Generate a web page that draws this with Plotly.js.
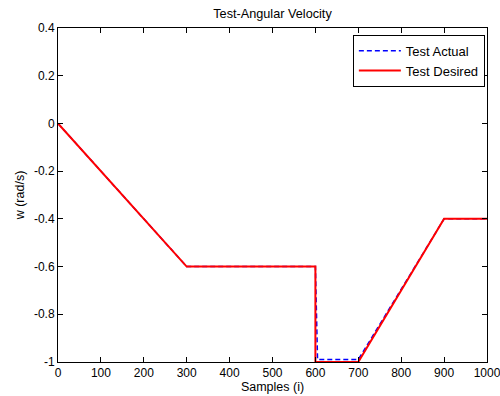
<!DOCTYPE html>
<html>
<head>
<meta charset="utf-8">
<script src="https://cdn.plot.ly/plotly-3.0.1.min.js"></script>
<style>html,body{margin:0;padding:0;background:#fff;}#chart{width:500px;height:396px;}</style>
</head>
<body>
<div id="chart"></div>
<script>
// Breakpoints
var actualX = [0, 300, 600, 605, 700, 900, 1000];
var actualY = [0, -0.6, -0.6, -0.99, -0.99, -0.4, -0.4];
var desiredX = [0, 300, 600, 600, 700, 900, 1000];
var desiredY = [0, -0.6, -0.6, -1, -1, -0.4, -0.4];
var xTicks = [0, 100, 200, 300, 400, 500, 600, 700, 800, 900, 1000];
var yTicks = [-1, -0.8, -0.6, -0.4, -0.2, 0, 0.2, 0.4];
var yTickText = ['-1', '-0.8', '-0.6', '-0.4', '-0.2', '0', '0.2', '0.4'];

var fam = 'Liberation Sans, Arial, sans-serif';
var tickFont = {family: fam, size: 12, color: '#000'};
var axFont = {family: fam, size: 12.5, color: '#000'};

var traces = [
  {x: actualX, y: actualY, mode: 'lines', name: 'Test Actual',
   line: {color: '#0000ff', width: 1.5, dash: '5px,3px'}},
  {x: desiredX, y: desiredY, mode: 'lines', name: 'Test Desired',
   line: {color: '#ff0000', width: 2}}
];

var layout = {
  width: 500, height: 396,
  margin: {l: 58, r: 13, t: 28, b: 34},
  paper_bgcolor: '#fff', plot_bgcolor: '#fff',
  font: tickFont,
  title: {text: 'Test-Angular Velocity', font: {family: fam, size: 12.7, color: '#000'},
          x: 0.545, xanchor: 'center', y: 0.965, yanchor: 'middle'},
  xaxis: {
    range: [0, 1000], tickvals: xTicks, ticktext: xTicks.map(String),
    ticks: 'inside', ticklen: 5, tickcolor: '#000', tickwidth: 1,
    showline: true, linecolor: '#000', linewidth: 1, mirror: 'ticks',
    showgrid: false, zeroline: false, automargin: false,
    ticklabeloverflow: 'allow',
    tickfont: tickFont,
    title: {text: 'Samples (i)', font: axFont, standoff: 1}
  },
  yaxis: {
    range: [-1, 0.4], tickvals: yTicks, ticktext: yTickText,
    ticks: 'inside', ticklen: 5, tickcolor: '#000', tickwidth: 1,
    showline: true, linecolor: '#000', linewidth: 1, mirror: 'ticks',
    showgrid: false, zeroline: false, automargin: false,
    tickfont: tickFont,
    title: {text: 'w (rad/s)', font: axFont, standoff: 6}
  },
  legend: {
    x: 0.995, xanchor: 'right', y: 0.98, yanchor: 'top',
    bgcolor: '#fff', bordercolor: '#000', borderwidth: 1,
    font: {family: fam, size: 13, color: '#000'},
    tracegroupgap: 0, itemwidth: 42
  },
  showlegend: true
};

Plotly.newPlot('chart', traces, layout, {displayModeBar: false, staticPlot: true});
</script>
</body>
</html>
